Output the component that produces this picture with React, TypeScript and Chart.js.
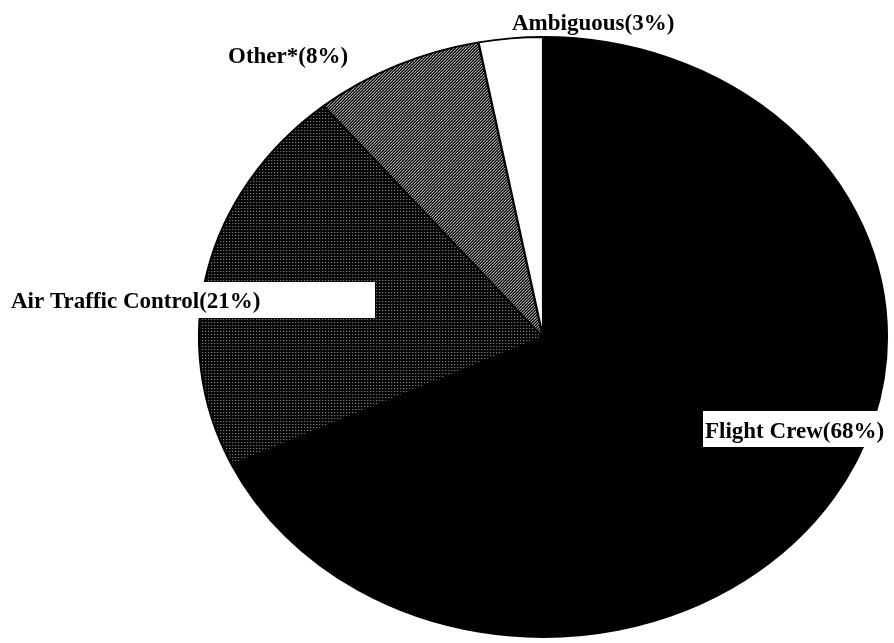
import React, { useEffect, useRef } from 'react';
import { Chart, registerables } from 'chart.js';

Chart.register(...registerables);

// ---- data ----
const categories = ['Flight Crew', 'Air Traffic Control', 'Other*', 'Ambiguous'];
const shares = [68, 21, 8, 3];

// ---- layout (not data) ----
const PIE = { cx: 543, cy: 337, rx: 344, ry: 300 };
const LABEL_LAYOUT = [
  { x: 705, y: 438, box: [703, 411, 200, 36] },
  { x: 11, y: 308, box: [0, 282, 375, 36] },
  { x: 228, y: 63, box: null },
  { x: 512, y: 30, box: null },
];
const FONT = 'bold 23px "Liberation Serif", "Times New Roman", serif';

function makePattern(size: number, bg: string, dots: [number, number, string][]) {
  const c = document.createElement('canvas');
  c.width = size;
  c.height = size;
  const g = c.getContext('2d')!;
  g.fillStyle = bg;
  g.fillRect(0, 0, size, size);
  dots.forEach(([x, y, col]) => {
    g.fillStyle = col;
    g.fillRect(x, y, 1, 1);
  });
  return g.createPattern(c, 'repeat')!;
}

export default function App() {
  const ref = useRef<HTMLCanvasElement>(null);

  useEffect(() => {
    document.body.style.margin = '0';
    const canvas = ref.current!;
    const atcPattern = makePattern(3, '#000', [[1, 1, '#bbbbbb']]);
    const otherPattern = makePattern(3, '#000', [
      [0, 0, '#ffffff'],
      [1, 2, '#ffffff'],
      [2, 1, '#cccccc'],
    ]);
    const patterns = [atcPattern, otherPattern];

    const ellipsePlugin = {
      id: 'ellipsePie',
      beforeDatasetsDraw(chart: any) {
        const arc = chart.getDatasetMeta(0).data[0];
        const { x, y, outerRadius } = arc;
        const sx = PIE.rx / outerRadius;
        const sy = PIE.ry / outerRadius;
        const ctx = chart.ctx;
        ctx.save();
        ctx.translate(PIE.cx, PIE.cy);
        ctx.scale(sx, sy);
        ctx.translate(-x, -y);
        patterns.forEach((p) => {
          if (p && (p as any).setTransform) p.setTransform(new DOMMatrix([1 / sx, 0, 0, 1 / sy, 0, 0]));
        });
      },
      afterDatasetsDraw(chart: any) {
        chart.ctx.restore();
      },
      afterDraw(chart: any) {
        const ctx = chart.ctx;
        ctx.save();
        ctx.font = FONT;
        ctx.textBaseline = 'alphabetic';
        ctx.textAlign = 'left';
        categories.forEach((name, i) => {
          const l = LABEL_LAYOUT[i];
          if (l.box) {
            ctx.fillStyle = '#ffffff';
            ctx.fillRect(l.box[0], l.box[1], l.box[2], l.box[3]);
          }
          ctx.fillStyle = '#000000';
          ctx.fillText(`${name}(${shares[i]}%)`, l.x, l.y);
        });
        ctx.restore();
      },
    };

    const chart = new Chart(canvas, {
      type: 'pie',
      data: {
        labels: categories,
        datasets: [
          {
            data: shares,
            backgroundColor: ['#000000', atcPattern, otherPattern, '#ffffff'],
            borderColor: '#000000',
            borderWidth: 2,
            hoverOffset: 0,
          },
        ],
      },
      options: {
        animation: false,
        responsive: true,
        maintainAspectRatio: false,
        events: [],
        layout: { padding: 0 },
        plugins: {
          legend: { display: false },
          tooltip: { enabled: false },
        },
      },
      plugins: [ellipsePlugin],
    });
    return () => chart.destroy();
  }, []);

  return (
    <div style={{ position: 'fixed', left: 0, top: 0, width: 894, height: 643, background: '#fff' }}>
      <canvas ref={ref} />
    </div>
  );
}
